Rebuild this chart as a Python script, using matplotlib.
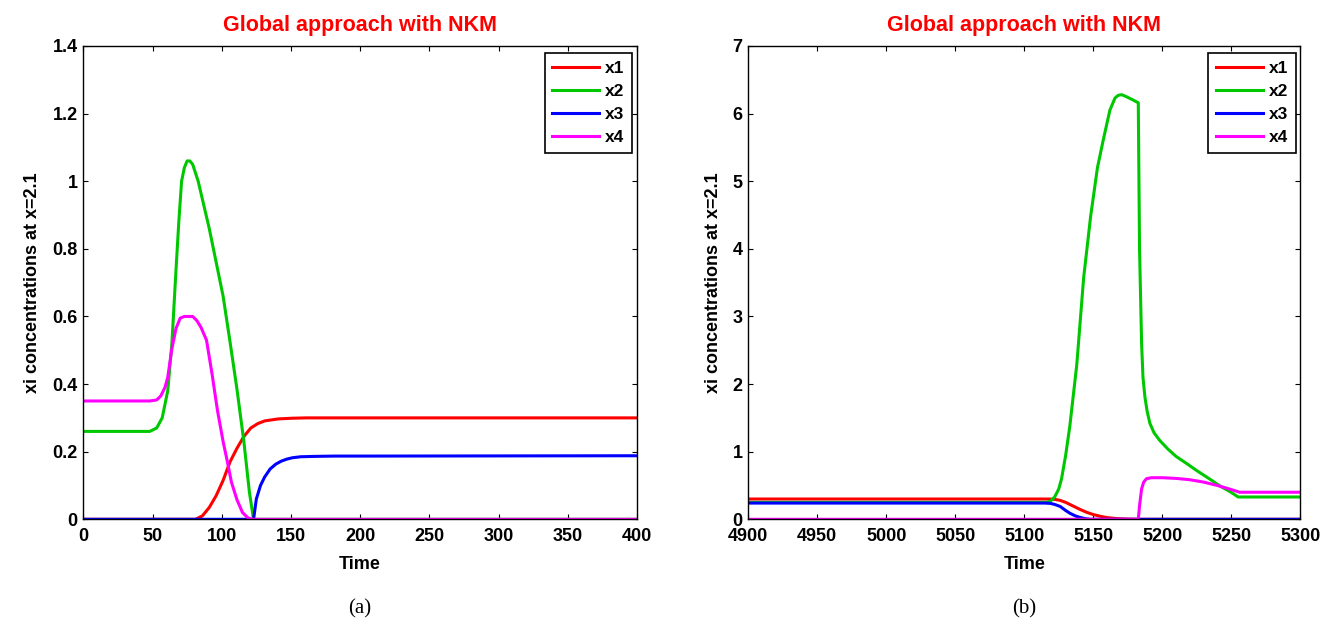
import matplotlib
matplotlib.use("Agg")
import numpy as np
import matplotlib.pyplot as plt
from matplotlib.ticker import FuncFormatter

plt.rcParams['font.family'] = ['Liberation Sans', 'DejaVu Sans']
plt.rcParams['font.weight'] = 'bold'

labels = ["x1", "x2", "x3", "x4"]
colors = ["#ff0000", "#00c800", "#0000ff", "#ff00ff"]

# panel (a): t in 0..400
t1_a = [0, 81, 86, 91, 96, 101, 106, 111, 116, 121, 126, 131, 141, 151, 161, 400]
x1_a = [0, 0, 0.01, 0.035, 0.07, 0.115, 0.17, 0.21, 0.245, 0.27, 0.283, 0.291, 0.297, 0.299, 0.3, 0.3]

t2_a = [0, 48, 53, 57, 61, 64, 67, 69, 71, 73, 75, 77, 79, 83, 87, 91, 96, 101, 106, 111, 116, 120, 123, 400]
x2_a = [0.26, 0.26, 0.27, 0.3, 0.38, 0.52, 0.74, 0.88, 1.0, 1.04, 1.06, 1.06, 1.05, 1.0, 0.93, 0.86, 0.76, 0.66, 0.525, 0.385, 0.23, 0.08, 0.0, 0.0]

t3_a = [0, 123, 125, 128, 131, 135, 139, 143, 147, 151, 157, 166, 181, 201, 400]
x3_a = [0, 0, 0.06, 0.1, 0.125, 0.149, 0.163, 0.172, 0.178, 0.182, 0.185, 0.186, 0.187, 0.187, 0.188]

t4_a = [0, 48, 53, 56, 59, 61, 64, 67, 70, 73, 79, 82, 85, 89, 93, 97, 101, 104, 107, 111, 115, 119, 122, 400]
x4_a = [0.35, 0.35, 0.353, 0.365, 0.39, 0.42, 0.505, 0.565, 0.595, 0.6, 0.6, 0.588, 0.568, 0.53, 0.43, 0.32, 0.23, 0.172, 0.11, 0.058, 0.02, 0.004, 0.0, 0.0]

# panel (b): t in 4900..5300
t1_b = [4900, 5118, 5122, 5126, 5130, 5135, 5140, 5145, 5150, 5155, 5160, 5167, 5175, 5182, 5300]
x1_b = [0.3, 0.3, 0.295, 0.28, 0.25, 0.2, 0.15, 0.105, 0.07, 0.045, 0.025, 0.01, 0.003, 0, 0]

t2_b = [4900, 5116, 5119, 5122, 5125, 5127, 5130, 5133, 5138, 5143, 5148, 5153, 5157, 5162, 5165.7, 5168, 5170.6,
        5174, 5178, 5182.6, 5183.5, 5185, 5186, 5187.4, 5189, 5191, 5194, 5198, 5204, 5210, 5218, 5225, 5234,
        5242, 5249, 5255, 5300]
x2_b = [0.25, 0.25, 0.27, 0.33, 0.45, 0.6, 0.95, 1.38, 2.28, 3.57, 4.47, 5.2, 5.59, 6.05, 6.23, 6.27, 6.28,
        6.25, 6.21, 6.16, 4.0, 2.6, 2.1, 1.81, 1.6, 1.42, 1.28, 1.17, 1.04, 0.93, 0.82, 0.72, 0.6,
        0.49, 0.41, 0.33, 0.33]

t3_b = [4900, 5115, 5119, 5122, 5126, 5130, 5133, 5137, 5140, 5144, 5148, 5300]
x3_b = [0.24, 0.24, 0.235, 0.22, 0.19, 0.13, 0.09, 0.05, 0.03, 0.01, 0, 0]

t4_b = [4900, 5182.6, 5183.5, 5185, 5186.5, 5188.5, 5192, 5200, 5210, 5220, 5230, 5240, 5250, 5256, 5300]
x4_b = [0, 0, 0.2, 0.45, 0.55, 0.6, 0.615, 0.615, 0.605, 0.585, 0.55, 0.5, 0.44, 0.40, 0.40]

W, H = 1323, 619
fig = plt.figure(figsize=(W / 100, H / 100), dpi=100)
ax_a = fig.add_axes([83.3 / W, 99.7 / H, 553.7 / W, 473.3 / H])
ax_b = fig.add_axes([748.3 / W, 99.7 / H, 552 / W, 473.3 / H])

panels = [
    (ax_a, [(t1_a, x1_a), (t2_a, x2_a), (t3_a, x3_a), (t4_a, x4_a)], (0, 400), (0, 1.4), np.arange(0, 401, 50), np.arange(0, 1.41, 0.2), "(a)"),
    (ax_b, [(t1_b, x1_b), (t2_b, x2_b), (t3_b, x3_b), (t4_b, x4_b)], (4900, 5300), (0, 7), np.arange(4900, 5301, 50), np.arange(0, 8, 1), "(b)"),
]

for ax, series, xl, yl, xt, yt, cap in panels:
    for (t, v), c, lab in zip(series, colors, labels):
        ax.plot(t, v, color=c, lw=2.2, label=lab, solid_joinstyle="round")
    ax.set_xlim(*xl)
    ax.set_ylim(*yl)
    ax.set_xticks(xt)
    ax.set_yticks(yt)
    ax.yaxis.set_major_formatter(FuncFormatter(lambda v, p: "%g" % round(v, 2)))
    ax.tick_params(direction="in", length=3.6, width=0.8, top=True, right=True,
                   labelsize=13, pad=4)
    ax.tick_params(axis="x", pad=6.5)
    for s in ax.spines.values():
        s.set_linewidth(1.0)
    ax.set_title("Global approach with NKM", color="#ff0000", fontsize=15.5, fontweight="bold", pad=11)
    ax.set_xlabel("Time", fontsize=13, fontweight="bold", labelpad=8)
    ax.set_ylabel("xi concentrations at x=2.1", fontsize=13, fontweight="bold", labelpad=8)
    leg = ax.legend(loc="upper right", bbox_to_anchor=(1 - 4.5 / 552, 1 - 7 / 473.3), borderaxespad=0,
                    fontsize=12.5, handlelength=2.7, handletextpad=0.35, labelspacing=0.45,
                    borderpad=0.45, fancybox=False, framealpha=1)
    leg.get_frame().set_edgecolor("black")
    leg.get_frame().set_linewidth(1.2)
    for ln in leg.get_lines():
        ln.set_linewidth(2.2)
    ax.text(0.5, -0.19, cap, transform=ax.transAxes, ha="center", va="center",
            fontsize=15, fontweight="normal", family=["Liberation Serif", "DejaVu Serif"])

plt.savefig("out.png", dpi=100)
